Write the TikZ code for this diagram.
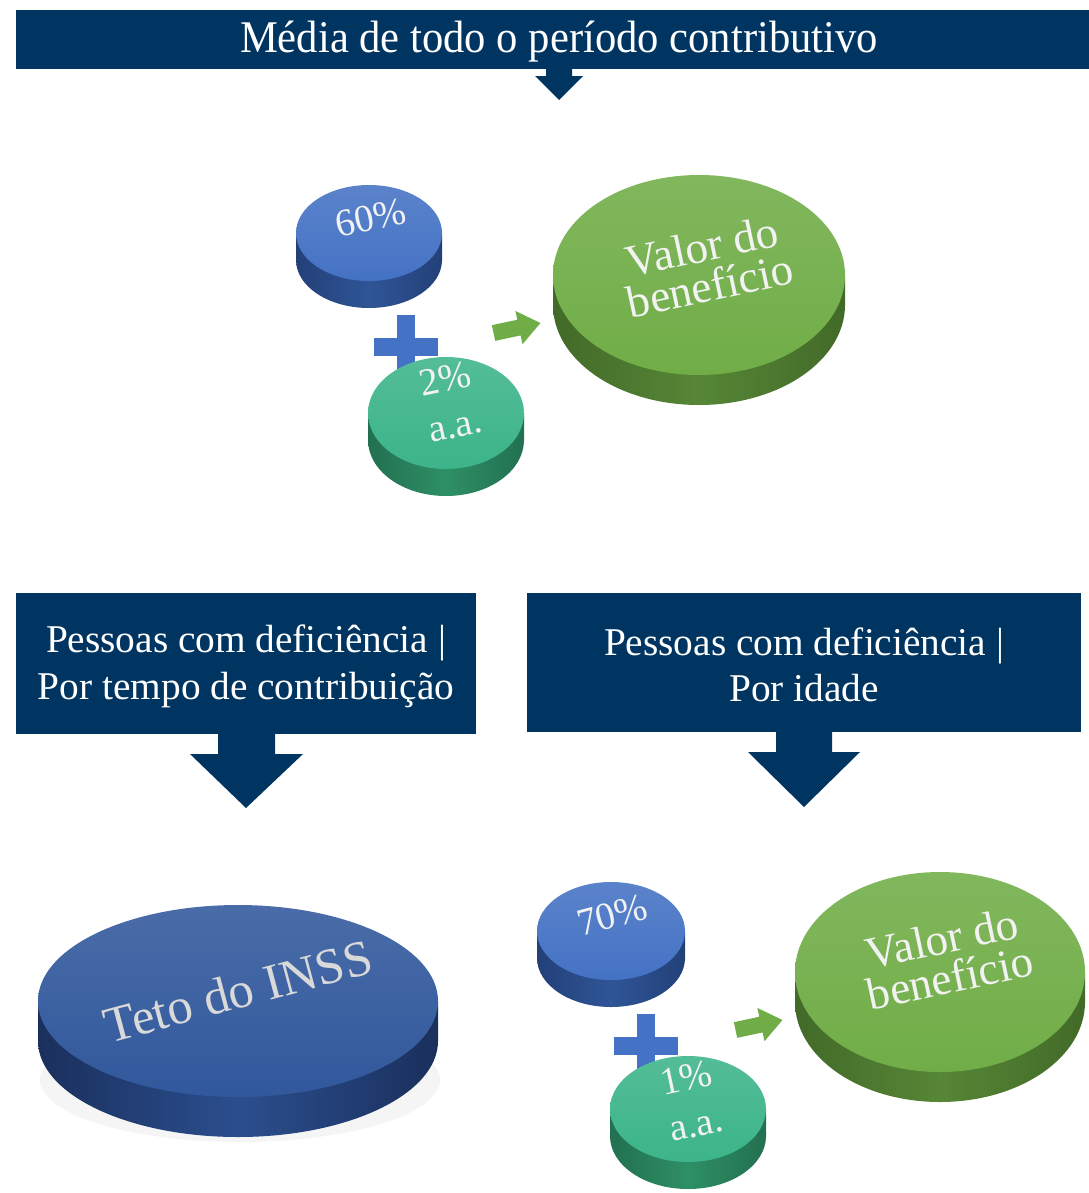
\documentclass[tikz,border=0pt]{standalone}
\usepackage{fontspec}
\setmainfont{Liberation Serif}
\definecolor{navy}{RGB}{0,53,98}
\definecolor{bluetop}{RGB}{68,114,196}
\definecolor{blueside}{RGB}{47,85,151}
\definecolor{bluedark}{RGB}{35,64,120}
\definecolor{tealtop}{RGB}{60,180,137}
\definecolor{tealside}{RGB}{46,143,102}
\definecolor{tealdark}{RGB}{34,112,80}
\definecolor{greentop}{RGB}{112,173,71}
\definecolor{greenside}{RGB}{86,134,54}
\definecolor{greendark}{RGB}{66,106,40}
\definecolor{tetotop}{RGB}{49,88,156}
\definecolor{tetoside}{RGB}{43,78,142}
\definecolor{tetodark}{RGB}{26,48,92}
\definecolor{txtlight}{RGB}{242,242,242}
\definecolor{txtgrey}{RGB}{217,217,217}
\newcommand\mydisc[8]{%
  \begin{scope}[shift={(#1,#2)}]
    \shade[left color=#8, right color=#8, middle color=#7] (-#3,0) rectangle (#3,#5);
    \shade[left color=#8, right color=#8, middle color=#7] (0,#5) ellipse [x radius=#3, y radius=#4];
    \shade[top color=#6!88!white, bottom color=#6] (0,0) ellipse [x radius=#3, y radius=#4];
  \end{scope}}
\begin{document}
\begin{tikzpicture}[x=0.75pt,y=-0.75pt,
  banner/.style={fill=navy, draw=none, inner sep=0pt},
  bannertext/.style={text=white, align=center, font=\fontsize{29.5}{35}\selectfont},
  emb/.style={text=txtlight, align=center, font=\fontsize{29}{29}\selectfont},
  bigemb/.style={text=txtlight, align=center, font=\fontsize{34}{30}\selectfont},
  plusshape/.style={fill=bluetop},
  greenarrow/.style={fill=greentop}]
\useasboundingbox (0,0) rectangle (1089,1193);

% ---------- top banner ----------
\node[banner, minimum width=804.75pt, minimum height=44.25pt] (top) at (552.5,39.5) {};
\node[text=white, font=\fontsize{34}{38}\selectfont, xscale=0.94] (toptext) at (559,42) {Média de todo o período contributivo};
\fill[navy] (546,69) -- (572,69) -- (572,76) -- (583,76) -- (559,100) -- (535,76) -- (546,76) -- cycle;

% ---------- middle group ----------
\mydisc{369}{233}{73}{48}{27}{bluetop}{blueside}{bluedark}
\node[emb, rotate=12] (t60) at (371,218) {60\%};

\fill[plusshape] (374,338) rectangle (438,356);
\fill[plusshape] (397,315) rectangle (415,379);

\mydisc{446}{413}{78}{56}{27}{tealtop}{tealside}{tealdark}
\node[emb, rotate=12] (t2) at (450,402) {2\%\\[6pt]a.a.};

\begin{scope}[shift={(517,328)}, rotate=12]
  \fill[greenarrow] (-24,-8) -- (2,-8) -- (2,-17) -- (24,0) -- (2,17) -- (2,8) -- (-24,8) -- cycle;
\end{scope}

\mydisc{699}{275}{146}{100}{30}{greentop}{greenside}{greendark}
\node[bigemb, rotate=12] (vb1) at (706,266) {Valor do\\benefício};

% ---------- lower banners ----------
\node[banner, minimum width=345pt, minimum height=105.75pt] (left) at (246,663.5) {};
\node[bannertext] (lefttext) at (246,666) {Pessoas com deficiência |\\Por tempo de contribuição};
\fill[navy] (218,734) -- (275,734) -- (275,754) -- (303,754) -- (246,808) -- (190,754) -- (218,754) -- cycle;

\node[banner, minimum width=415.5pt, minimum height=104.25pt] (right) at (804,662.5) {};
\node[bannertext] (righttext) at (804,665) {Pessoas com deficiência |\\Por idade};
\fill[navy] (776,732) -- (832,732) -- (832,752) -- (860,752) -- (804,807) -- (748,752) -- (776,752) -- cycle;

% ---------- Teto do INSS ----------
\fill[black!4] (240,1080) ellipse [x radius=200, y radius=62];
\mydisc{238}{1001}{200}{96}{40}{tetotop}{tetoside}{tetodark}
\node[text=txtgrey, rotate=15, font=\fontsize{38}{38}\selectfont] (teto) at (238,991) {Teto do INSS};

% ---------- bottom right group ----------
\mydisc{611}{931}{74}{49}{27}{bluetop}{blueside}{bluedark}
\node[emb, rotate=15] (t70) at (612,915) {70\%};

\fill[plusshape] (614,1037) rectangle (678,1055);
\fill[plusshape] (637,1014) rectangle (655,1078);

\mydisc{688}{1109}{78}{53}{27}{tealtop}{tealside}{tealdark}
\node[emb, rotate=12] (t1) at (691,1101) {1\%\\[6pt]a.a.};

\begin{scope}[shift={(759,1025)}, rotate=12]
  \fill[greenarrow] (-24,-8) -- (2,-8) -- (2,-17) -- (24,0) -- (2,17) -- (2,8) -- (-24,8) -- cycle;
\end{scope}

\mydisc{940}{972}{145}{100}{30}{greentop}{greenside}{greendark}
\node[bigemb, rotate=12] (vb2) at (946,958) {Valor do\\benefício};
\end{tikzpicture}
\end{document}
